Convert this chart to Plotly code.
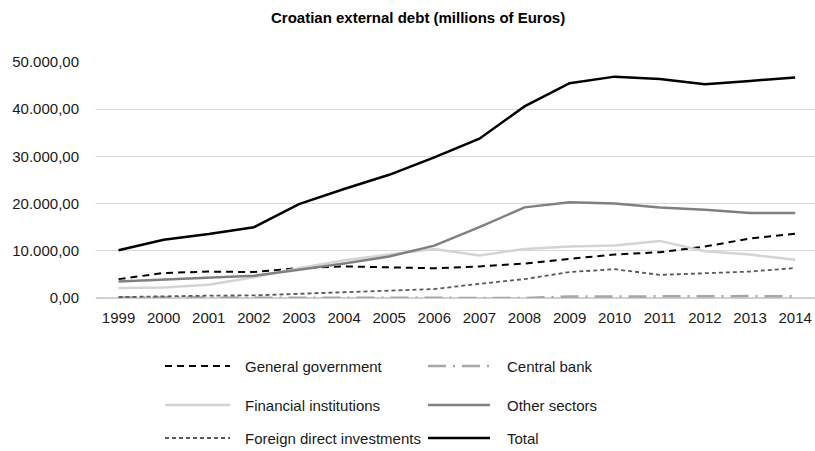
import plotly.graph_objects as go

years = [str(y) for y in range(1999, 2015)]
general_government = [4000, 5300, 5600, 5500, 6350, 6700, 6500, 6300, 6700, 7300, 8300, 9200, 9700, 10900, 12600, 13600]
central_bank = [100, 100, 50, 50, 50, 10, 10, 10, 10, 10, 300, 350, 350, 350, 400, 350]
financial_institutions = [2100, 2200, 2800, 4400, 6300, 8000, 9200, 10400, 9000, 10400, 10900, 11100, 12100, 9900, 9200, 8100]
other_sectors = [3500, 3900, 4200, 4700, 6000, 7300, 8800, 11100, 15000, 19200, 20300, 20000, 19200, 18700, 18000, 18000]
fdi = [200, 400, 500, 550, 900, 1300, 1550, 1900, 3000, 4000, 5500, 6100, 4900, 5300, 5600, 6350]
total = [10100, 12350, 13550, 15000, 19900, 23100, 26100, 29800, 33750, 40600, 45500, 46900, 46400, 45300, 46000, 46700]
tick_vals = [0, 10000, 20000, 30000, 40000, 50000]

FONT = "Liberation Sans, Arial, sans-serif"
W, H = 815, 451
L, R, T, B = 96, 0, 62, 153

series = [
    ("General government", general_government, dict(color="#000000", width=2, dash="7px,5px")),
    ("Central bank", central_bank, dict(color="#a6a6a6", width=2.5, dash="18px,7px,2px,7px")),
    ("Financial institutions", financial_institutions, dict(color="#d4d4d4", width=2.5)),
    ("Other sectors", other_sectors, dict(color="#808080", width=2.5)),
    ("Foreign direct investments", fdi, dict(color="#595959", width=1.8, dash="4px,3px")),
    ("Total", total, dict(color="#000000", width=2.5)),
]

fig = go.Figure()
for name, vals, line in series:
    fig.add_trace(go.Scatter(x=years, y=vals, mode="lines", name=name, line=line,
                             showlegend=False))

def px_x(px):
    return (px - L) / (W - L - R)

def px_y(py):
    return (H - B - py) / (H - T - B)

# custom legend
legend_pos = [
    (165, 230, 243, 366), (428, 490, 505, 366),
    (165, 230, 243, 405), (428, 490, 505, 405),
    (165, 230, 243, 438), (428, 490, 505, 438),
]
shapes = []
annotations = []
for (name, vals, line), (x0, x1, tx, ty) in zip(series, legend_pos):
    shapes.append(dict(type="line", xref="paper", yref="paper",
                       x0=px_x(x0), x1=px_x(x1), y0=px_y(ty), y1=px_y(ty),
                       line=line))
    annotations.append(dict(text=name, xref="paper", yref="paper",
                            x=px_x(tx), y=px_y(ty), xanchor="left", yanchor="middle",
                            showarrow=False, font=dict(family=FONT, size=15, color="#1a1a1a")))

annotations.append(dict(text="<b>Croatian external debt (millions of Euros)</b>",
                        xref="paper", yref="paper", x=px_x(418), y=px_y(17),
                        xanchor="center", yanchor="middle", showarrow=False,
                        font=dict(family=FONT, size=15, color="#000000")))

fig.update_layout(
    width=W, height=H,
    margin=dict(l=L, r=R, t=T, b=B),
    paper_bgcolor="white", plot_bgcolor="white",
    separators=",.",
    shapes=shapes, annotations=annotations,
    font=dict(family=FONT, size=15, color="#1a1a1a"),
    xaxis=dict(type="category", range=[-0.5, 15.44], showgrid=False,
               showline=False, zeroline=False, ticks="", ticklabelstandoff=9,
               tickfont=dict(family=FONT, size=15, color="#1a1a1a")),
    yaxis=dict(range=[0, 50000], tickvals=tick_vals, tickformat=",.2f",
               showgrid=True, gridcolor="#d9d9d9", gridwidth=1.2,
               zeroline=True, zerolinecolor="#d0d0d0", zerolinewidth=2,
               showline=False, ticks="", ticklabelstandoff=16,
               tickfont=dict(family=FONT, size=15, color="#1a1a1a")),
)

fig.write_html("out.html")
